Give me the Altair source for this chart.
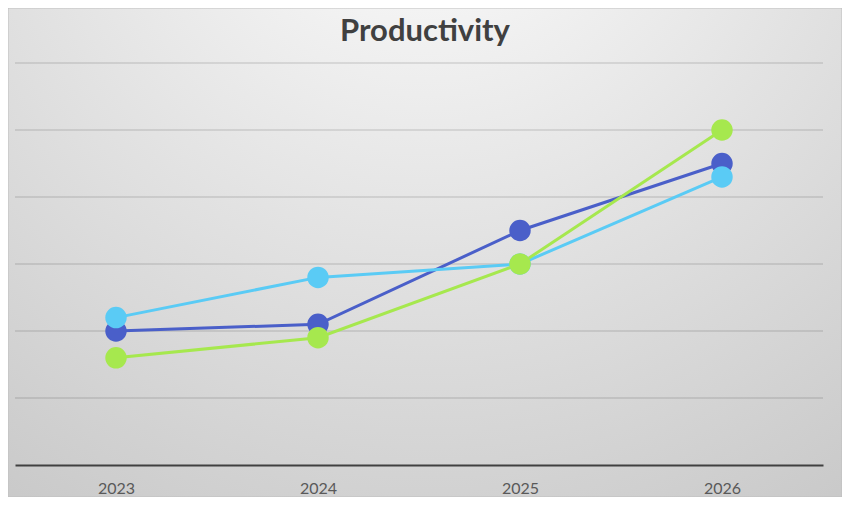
import altair as alt
import pandas as pd

years = ["2023", "2024", "2025", "2026"]
series_names = ["Series 1", "Series 2", "Series 3"]
series1 = [2.0, 2.1, 3.5, 4.5]
series2 = [2.2, 2.8, 3.0, 4.3]
series3 = [1.6, 1.9, 3.0, 5.0]
colors = ["#4A5FC9", "#5ACBF5", "#A6E84E"]
grid_values = [1, 2, 3, 4, 5, 6]
title_text = "Productivity"

rows = []
for name, vals in zip(series_names, [series1, series2, series3]):
    for y, v in zip(years, vals):
        rows.append({"year": y, "value": v, "series": name})
df = pd.DataFrame(rows)

W, H = 808, 402
PL, PT, PR, PB = 7, 55, 19, 32

bg = alt.Chart(pd.DataFrame({"a": [0]})).mark_rect(
    fill=alt.RadialGradient(
        gradient="radial",
        x1=0.5, y1=0.0, r1=0.0,
        x2=0.5, y2=0.0, r2=1.0,
        stops=[alt.GradientStop(color="#ffffff", offset=0),
               alt.GradientStop(color="#e2e2e2", offset=0.5),
               alt.GradientStop(color="#c6c6c6", offset=1)],
    ),
    stroke="#bfbfbf", strokeWidth=1,
).encode(
    x=alt.value(-PL), x2=alt.value(W + PR),
    y=alt.value(-PT), y2=alt.value(H + PB),
)

yscale = alt.Scale(domain=[0, 6], nice=False)

grid = alt.Chart(pd.DataFrame({"g": grid_values})).mark_rule(
    color="#000000", opacity=0.19, strokeWidth=1
).encode(y=alt.Y("g:Q", scale=yscale, axis=None))

title = alt.Chart(pd.DataFrame({"t": [title_text]})).mark_text(
    font="Lato", fontSize=31, fontWeight="bold", color="#404040",
    baseline="alphabetic", align="center",
).encode(text="t:N", x=alt.value(W / 2 + 6), y=alt.value(-PT + 33))

xenc = alt.X("year:O", sort=years, scale=alt.Scale(type="point", padding=0.5),
             axis=alt.Axis(title=None, labelAngle=0, labelFontSize=16, labelColor="#595959",
                           labelFont="Lato", labelPadding=15, ticks=False,
                           domainColor="#404040", domainWidth=2, grid=False, zindex=1))
yenc = alt.Y("value:Q", scale=yscale, axis=None)
cenc = alt.Color("series:N", scale=alt.Scale(domain=series_names, range=colors), legend=None)

lines = alt.Chart(df).mark_line(strokeWidth=3).encode(x=xenc, y=yenc, color=cenc, detail="series:N")
points = alt.Chart(df).mark_circle(size=460, opacity=1).encode(
    x=alt.X("year:O", sort=years), y="value:Q", color=cenc,
    order=alt.Order("series:N"))

chart = alt.layer(bg, grid, title, lines, points).properties(
    width=W, height=H,
    padding={"left": PL, "top": PT, "right": PR, "bottom": PB},
    autosize=alt.AutoSizeParams(type="none"),
).configure_view(stroke=None)

chart.save("out.html", embed_options={"renderer": "svg", "actions": False})
